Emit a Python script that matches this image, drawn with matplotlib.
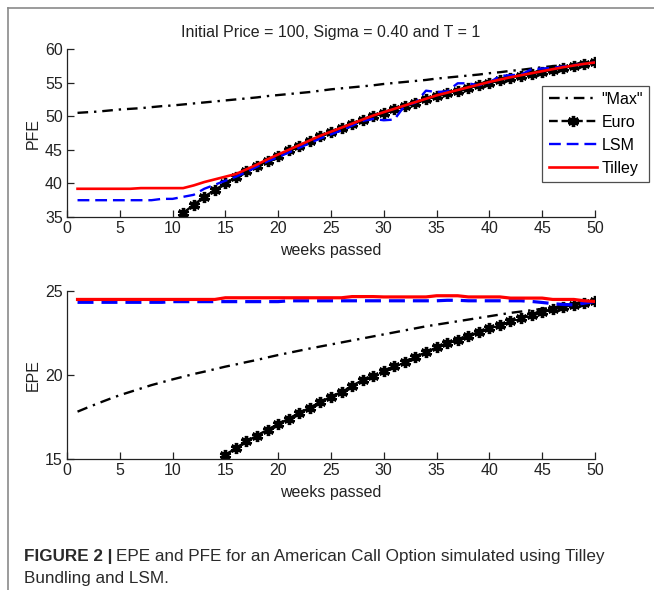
import matplotlib
matplotlib.use("Agg")
import matplotlib.pyplot as plt
from matplotlib.lines import Line2D

plt.rcParams['font.family'] = ['Liberation Sans', 'DejaVu Sans']

# weeks passed
weeks = list(range(1, 51))
euro_pfe_weeks = list(range(11, 51))
euro_epe_weeks = list(range(15, 51))

# PFE (top panel)
max_pfe = [50.5, 50.6, 50.7, 50.85, 51.0, 51.1, 51.2, 51.35, 51.5, 51.6,
           51.75, 51.9, 52.05, 52.2, 52.35, 52.5, 52.65, 52.8, 53.0, 53.15,
           53.3, 53.45, 53.6, 53.8, 54.0, 54.15, 54.3, 54.45, 54.6, 54.8,
           54.95, 55.1, 55.25, 55.4, 55.6, 55.75, 55.9, 56.05, 56.2, 56.4,
           56.55, 56.75, 56.9, 57.1, 57.3, 57.45, 57.6, 57.75, 57.9, 58.0]
euro_pfe = [35.6, 36.8, 38.0, 39.0, 40.0, 40.9, 41.8, 42.6, 43.4, 44.1,
            44.9, 45.6, 46.3, 47.0, 47.6, 48.2, 48.8, 49.4, 50.0, 50.5,
            51.0, 51.5, 52.0, 52.5, 53.0, 53.4, 53.8, 54.2, 54.6, 55.0,
            55.35, 55.7, 56.0, 56.3, 56.6, 56.9, 57.2, 57.5, 57.8, 58.0]
lsm_pfe = [37.5, 37.5, 37.5, 37.5, 37.5, 37.5, 37.5, 37.5, 37.7, 37.7,
           38.0, 38.3, 39.2, 39.8, 40.4, 41.0, 41.7, 42.5, 43.3, 43.9,
           44.6, 45.3, 46.0, 46.7, 47.3, 47.9, 48.6, 49.3, 49.6, 49.4,
           49.5, 51.6, 52.0, 53.8, 53.6, 53.7, 54.9, 54.9, 54.6, 55.0,
           56.0, 56.1, 56.2, 57.0, 57.1, 57.2, 57.4, 57.6, 57.8, 58.0]
tilley_pfe = [39.2, 39.2, 39.2, 39.2, 39.2, 39.2, 39.3, 39.3, 39.3, 39.3,
              39.3, 39.7, 40.2, 40.6, 41.0, 41.4, 42.1, 42.8, 43.6, 44.3,
              45.0, 45.7, 46.4, 47.1, 47.7, 48.3, 48.9, 49.5, 50.1, 50.6,
              51.1, 51.6, 52.1, 52.6, 53.1, 53.5, 53.9, 54.3, 54.7, 55.1,
              55.45, 55.8, 56.1, 56.4, 56.7, 57.0, 57.3, 57.55, 57.8, 58.0]

# EPE (bottom panel)
max_epe = [17.82, 18.08, 18.33, 18.57, 18.8, 19.0, 19.2, 19.4, 19.57, 19.74,
           19.9, 20.06, 20.2, 20.35, 20.5, 20.63, 20.77, 20.9, 21.05, 21.19,
           21.32, 21.45, 21.58, 21.7, 21.82, 21.94, 22.06, 22.18, 22.3, 22.42,
           22.54, 22.66, 22.78, 22.9, 23.0, 23.1, 23.2, 23.3, 23.4, 23.5,
           23.6, 23.7, 23.78, 23.86, 23.94, 24.02, 24.1, 24.18, 24.26, 24.35]
euro_epe = [15.24, 15.65, 16.05, 16.4, 16.75, 17.08, 17.4, 17.75, 18.05, 18.4,
            18.7, 19.0, 19.35, 19.7, 19.95, 20.25, 20.55, 20.8, 21.1, 21.35,
            21.65, 21.9, 22.1, 22.35, 22.55, 22.8, 23.0, 23.2, 23.4, 23.6,
            23.78, 23.92, 24.05, 24.17, 24.27, 24.38]
lsm_epe = [24.33, 24.33, 24.33, 24.33, 24.33, 24.33, 24.33, 24.33, 24.33, 24.37,
           24.37, 24.37, 24.37, 24.37, 24.37, 24.37, 24.37, 24.37, 24.37, 24.37,
           24.42, 24.42, 24.42, 24.42, 24.42, 24.42, 24.42, 24.42, 24.42, 24.42,
           24.42, 24.42, 24.42, 24.42, 24.42, 24.45, 24.45, 24.42, 24.42, 24.42,
           24.42, 24.42, 24.42, 24.38, 24.32, 24.25, 24.2, 24.18, 24.28, 24.38]
tilley_epe = [24.5, 24.5, 24.5, 24.5, 24.5, 24.5, 24.5, 24.5, 24.5, 24.5,
              24.5, 24.5, 24.5, 24.5, 24.6, 24.6, 24.6, 24.6, 24.6, 24.6,
              24.6, 24.6, 24.6, 24.6, 24.6, 24.6, 24.67, 24.67, 24.67, 24.65,
              24.65, 24.65, 24.65, 24.65, 24.72, 24.72, 24.72, 24.65, 24.65, 24.65,
              24.65, 24.58, 24.58, 24.58, 24.58, 24.5, 24.5, 24.5, 24.42, 24.38]

fig = plt.figure(figsize=(6.54, 5.9), dpi=100)

ax1 = fig.add_axes([0.1024, 0.6322, 0.8073, 0.2847])
ax2 = fig.add_axes([0.1024, 0.2220, 0.8073, 0.2847])

fs = 11.5
txt = '#222222'


def style(ax):
    ax.spines['top'].set_visible(False)
    ax.spines['right'].set_visible(False)
    for s in ('left', 'bottom'):
        ax.spines[s].set_color(txt)
        ax.spines[s].set_linewidth(0.9)
    ax.tick_params(direction='in', length=5, width=0.9, colors=txt,
                   labelsize=fs, pad=3)
    ax.set_xlim(0, 50)
    ax.set_xticks(range(0, 51, 5))
    ax.set_xlabel('weeks passed', fontsize=fs, color=txt, labelpad=5)


# top: PFE
ax1.plot(weeks, max_pfe, color='black', lw=1.7, dashes=(4.5, 2.5, 1, 2.5), label='"Max"')
ax1.plot(euro_pfe_weeks, euro_pfe, color='black', lw=1.7, ls='--',
         marker=(6, 2, 0), ms=8, mew=2.4, label='Euro')
ax1.plot(weeks, lsm_pfe, color='#0000ff', lw=1.7, dashes=(5, 2.5), label='LSM')
ax1.plot(weeks, tilley_pfe, color='#ff0000', lw=1.9, label='Tilley')
style(ax1)
ax1.set_ylim(35, 60)
ax1.set_yticks(range(35, 61, 5))
ax1.set_ylabel('PFE', fontsize=fs, color=txt, labelpad=3)
ax1.set_title('Initial Price = 100, Sigma = 0.40 and T = 1', fontsize=fs,
              color=txt, pad=9)

leg = ax1.legend(loc='upper right', bbox_to_anchor=(1.103, 0.782), fontsize=fs,
                 frameon=True, fancybox=False, handlelength=3.0, handletextpad=0.3,
                 labelspacing=0.5, borderpad=0.4, borderaxespad=0, numpoints=1)
leg.get_frame().set_edgecolor(txt)
leg.get_frame().set_linewidth(0.9)

# bottom: EPE
ax2.plot(weeks, max_epe, color='black', lw=1.7, dashes=(4.5, 2.5, 1, 2.5))
ax2.plot(euro_epe_weeks, euro_epe, color='black', lw=1.7, ls='--',
         marker=(6, 2, 0), ms=8, mew=2.4)
ax2.plot(weeks, lsm_epe, color='#0000ff', lw=2.3, dashes=(5, 2.5))
ax2.plot(weeks, tilley_epe, color='#ff0000', lw=2.3)
style(ax2)
ax2.set_ylim(15, 25)
ax2.set_yticks([15, 20, 25])
ax2.set_ylabel('EPE', fontsize=fs, color=txt, labelpad=3)

# page frame lines
fig.add_artist(Line2D([8 / 654, 8 / 654], [0, 1 - 8 / 590], color='#8a8a8a', lw=1.2))
fig.add_artist(Line2D([8 / 654, 1], [1 - 8 / 590, 1 - 8 / 590], color='#8a8a8a', lw=1.2))

# caption
cap_fs = 12.3
cap_col = '#2a2a2a'
cap_y = 1 - 557 / 590
bold = fig.text(24 / 654, cap_y, 'FIGURE 2 |', fontsize=cap_fs, fontweight='bold',
                color=cap_col, va='center')
fig.canvas.draw()
bb = bold.get_window_extent().transformed(fig.transFigure.inverted())
fig.text(bb.x1 + 4 / 654, cap_y,
         'EPE and PFE for an American Call Option simulated using Tilley',
         fontsize=cap_fs, color=cap_col, va='center')
fig.text(24 / 654, 1 - 578 / 590, 'Bundling and LSM.', fontsize=cap_fs,
         color=cap_col, va='center')

fig.savefig('out.png', dpi=100)
